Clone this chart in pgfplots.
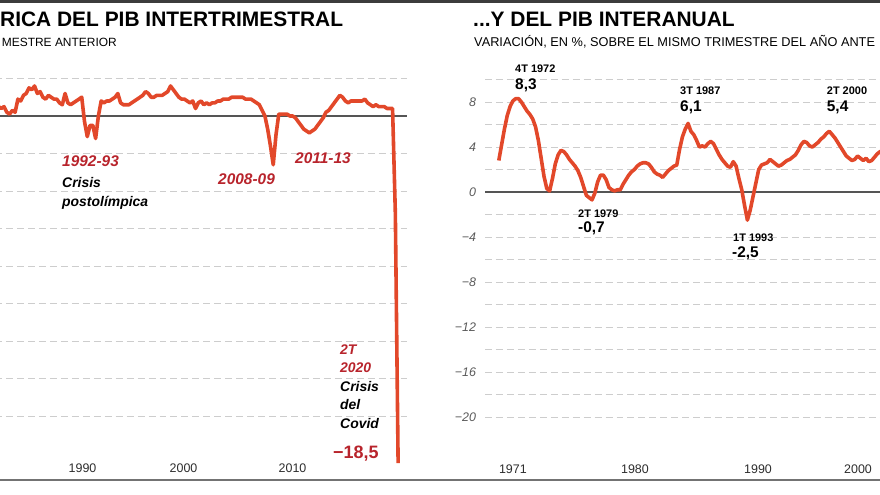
\documentclass[border=0pt]{standalone}
\usepackage{fontspec}
\setmainfont{Liberation Sans}
\usepackage{pgfplots}
\pgfplotsset{compat=1.18}

\definecolor{pibline}{RGB}{226,72,42}
\definecolor{pibred}{RGB}{184,36,44}
\definecolor{gridgray}{RGB}{205,205,205}
\definecolor{zerogray}{RGB}{85,85,85}
\definecolor{ticktext}{RGB}{45,45,45}
\definecolor{ylab}{RGB}{90,90,90}

\pgfplotsset{
  pibaxis/.style={
    scale only axis,
    axis line style={draw=none},
    major tick length=0pt, minor tick length=0pt,
    grid style={gridgray, line width=0.8pt, dash pattern=on 7pt off 4pt},
    ymajorgrids,
    clip=false,
    /pgf/number format/assume math mode=true,
    xticklabel style={anchor=base, font=\fontsize{12.5}{12.5}\selectfont, text=ticktext},
  },
}

\begin{document}
\begin{tikzpicture}
\useasboundingbox (0bp,0bp) rectangle (880bp,495bp);
\clip (0bp,0bp) rectangle (880bp,495bp);

% frame lines
\draw[line width=2.6bp, color={rgb,255:red,60;green,60;blue,60}] (0bp,493.7bp) -- (880bp,493.7bp);
\draw[line width=2bp, color={rgb,255:red,115;green,115;blue,115}] (0bp,14.5bp) -- (880bp,14.5bp);

% ---------- left: intertrimestral ----------
\begin{axis}[pibaxis,
  at={(-48.7bp,41.3bp)}, anchor=south west,
  width=455.7bp, height=384.6bp,
  xmin=1980, xmax=2021.05, ymin=-18, ymax=2.5,
  ytick={-16,-14,...,2}, yticklabels={},
  xtick={1991.82,2000.92,2010.74}, xticklabels={1990,2000,2010},
  xticklabel style={yshift=-19bp},
]
\addplot[zerogray, line width=1.2pt, forget plot] coordinates {(1980,0) (2021.05,0)};
\addplot[pibline, line width=3.6bp, line join=round] table {
1984.00 0.6
1984.25 0.5
1984.50 0.4
1984.75 0.5
1985.00 0.2
1985.25 0.1
1985.50 0.3
1985.75 0.2
1986.00 0.9
1986.25 0.8
1986.50 1.1
1986.75 1.2
1987.00 1.5
1987.25 1.4
1987.50 1.6
1987.75 1.2
1988.00 1.3
1988.25 1.0
1988.50 0.9
1988.75 1.1
1989.00 1.0
1989.25 0.9
1989.50 0.9
1989.75 0.7
1990.00 0.6
1990.25 1.2
1990.50 0.7
1990.75 0.6
1991.00 0.7
1991.25 0.8
1991.50 0.9
1991.75 1.0
1992.00 -0.3
1992.25 -1.1
1992.50 -0.5
1992.75 -0.5
1993.00 -1.2
1993.25 0.0
1993.50 0.8
1993.75 0.7
1994.00 0.8
1994.25 0.8
1994.50 0.9
1994.75 1.0
1995.00 1.2
1995.25 0.7
1995.50 0.6
1995.75 0.6
1996.00 0.6
1996.25 0.7
1996.50 0.8
1996.75 0.9
1997.00 1.0
1997.25 1.1
1997.50 1.3
1997.75 1.2
1998.00 1.0
1998.25 1.0
1998.50 1.1
1998.75 1.1
1999.00 1.1
1999.25 1.2
1999.50 1.3
1999.75 1.6
2000.00 1.4
2000.25 1.2
2000.50 1.0
2000.75 0.9
2001.00 0.9
2001.25 0.8
2001.50 0.7
2001.75 0.8
2002.00 0.4
2002.25 0.7
2002.50 0.8
2002.75 0.6
2003.00 0.7
2003.25 0.6
2003.50 0.7
2003.75 0.7
2004.00 0.8
2004.25 0.8
2004.50 0.9
2004.75 0.9
2005.00 0.9
2005.25 1.0
2005.50 1.0
2005.75 1.0
2006.00 1.0
2006.25 1.0
2006.50 0.9
2006.75 0.9
2007.00 0.9
2007.25 0.8
2007.50 0.7
2007.75 0.6
2008.00 0.3
2008.25 0.0
2008.50 -0.7
2008.75 -1.6
2009.00 -2.6
2009.25 -1.0
2009.50 0.1
2009.75 0.1
2010.00 0.1
2010.25 0.1
2010.50 0.0
2010.75 0.0
2011.00 -0.1
2011.25 -0.3
2011.50 -0.5
2011.75 -0.7
2012.00 -0.8
2012.25 -0.9
2012.50 -0.8
2012.75 -0.7
2013.00 -0.5
2013.25 -0.3
2013.50 -0.1
2013.75 0.2
2014.00 0.3
2014.25 0.5
2014.50 0.7
2014.75 0.9
2015.00 1.1
2015.25 1.0
2015.50 0.8
2015.75 0.7
2016.00 0.8
2016.25 0.8
2016.50 0.8
2016.75 0.8
2017.00 0.8
2017.25 0.9
2017.50 0.7
2017.75 0.6
2018.00 0.5
2018.25 0.6
2018.50 0.5
2018.75 0.5
2019.00 0.5
2019.25 0.4
2019.50 0.4
2019.75 0.4
2020.00 -5.2
2020.25 -18.5
};
\end{axis}

% ---------- right: interanual ----------
\begin{axis}[pibaxis,
  at={(485bp,55.5bp)}, anchor=south west,
  width=454.5bp, height=365.6bp,
  xmin=1969.78, xmax=2010, ymin=-22, ymax=10.5,
  ytick={-20,-16,...,8}, yticklabels={−20,−16,−12,−8,−4,0,4,8},
  minor ytick={-18,-14,...,10}, yminorgrids,
  minor grid style={gridgray, line width=0.8pt, dash pattern=on 7pt off 4pt},
  yticklabel style={font=\fontsize{12.5}{12.5}\selectfont\itshape, text=ylab, xshift=-5.5bp},
  xtick={1972.25,1983.05,1993.94,2002.79}, xticklabels={1971,1980,1990,2000},
  xticklabel style={yshift=-33.5bp},
]
\addplot[zerogray, line width=1.2pt, forget plot] coordinates {(1969.78,0) (2010,0)};
\addplot[pibline, line width=3.6bp, line join=round] table {
1971.00 2.8
1971.25 4.2
1971.50 5.6
1971.75 6.8
1972.00 7.6
1972.25 8.1
1972.50 8.3
1972.75 8.3
1973.00 8.0
1973.25 7.6
1973.50 7.2
1973.75 6.9
1974.00 6.5
1974.25 5.8
1974.50 4.6
1974.75 3.0
1975.00 1.4
1975.25 0.3
1975.50 0.1
1975.75 1.2
1976.00 2.5
1976.25 3.3
1976.50 3.7
1976.75 3.6
1977.00 3.3
1977.25 2.9
1977.50 2.6
1977.75 2.3
1978.00 1.9
1978.25 1.3
1978.50 0.5
1978.75 -0.3
1979.00 -0.5
1979.25 -0.7
1979.50 -0.1
1979.75 0.9
1980.00 1.5
1980.25 1.5
1980.50 1.1
1980.75 0.4
1981.00 0.2
1981.25 0.1
1981.50 0.2
1981.75 0.2
1982.00 0.7
1982.25 1.1
1982.50 1.5
1982.75 1.8
1983.00 2.0
1983.25 2.3
1983.50 2.5
1983.75 2.6
1984.00 2.6
1984.25 2.5
1984.50 2.2
1984.75 1.8
1985.00 1.6
1985.25 1.5
1985.50 1.3
1985.75 1.6
1986.00 1.9
1986.25 2.1
1986.50 2.3
1986.75 2.4
1987.00 3.8
1987.25 4.9
1987.50 5.6
1987.75 6.1
1988.00 5.4
1988.25 5.1
1988.50 4.6
1988.75 4.0
1989.00 4.1
1989.25 4.0
1989.50 4.3
1989.75 4.5
1990.00 4.3
1990.25 3.8
1990.50 3.3
1990.75 2.9
1991.00 2.6
1991.25 2.3
1991.50 2.2
1991.75 2.7
1992.00 2.3
1992.25 1.2
1992.50 0.2
1992.75 -1.2
1993.00 -2.5
1993.25 -1.6
1993.50 -0.4
1993.75 0.8
1994.00 2.0
1994.25 2.4
1994.50 2.5
1994.75 2.6
1995.00 2.9
1995.25 2.7
1995.50 2.5
1995.75 2.3
1996.00 2.4
1996.25 2.6
1996.50 2.8
1996.75 2.9
1997.00 3.1
1997.25 3.3
1997.50 3.7
1997.75 4.2
1998.00 4.5
1998.25 4.4
1998.50 4.1
1998.75 4.0
1999.00 4.2
1999.25 4.4
1999.50 4.7
1999.75 4.9
2000.00 5.2
2000.25 5.4
2000.50 5.1
2000.75 4.8
2001.00 4.4
2001.25 4.0
2001.50 3.6
2001.75 3.2
2002.00 3.0
2002.25 2.8
2002.50 2.9
2002.75 3.2
2003.00 3.0
2003.25 2.8
2003.50 3.0
2003.75 2.7
2004.00 2.8
2004.25 3.1
2004.50 3.4
2004.75 3.6
2005.00 3.6
2005.25 3.7
};
\end{axis}

% ---------- titles ----------
\node[anchor=base west, inner sep=0, font=\fontsize{21}{21}\selectfont\bfseries]
  at (0bp,468bp) {RICA DEL PIB INTERTRIMESTRAL};
\node[anchor=base east, inner sep=0, font=\fontsize{12}{12}\selectfont]
  at (117bp,448bp) {MESTRE ANTERIOR};
\node[anchor=base west, inner sep=0, font=\fontsize{21}{21}\selectfont\bfseries]
  at (473bp,468bp) {...Y DEL PIB INTERANUAL};
\node[anchor=base west, inner sep=0, font=\fontsize{12.8}{12.8}\selectfont]
  at (474bp,448bp) {VARIACIÓN, EN \%, SOBRE EL MISMO TRIMESTRE DEL AÑO ANTE};

\begin{scope}[every node/.style={anchor=base west, inner sep=0}]
% ---------- left annotations ----------
\node[font=\fontsize{15.5}{15.5}\selectfont\bfseries\itshape, text=pibred] at (62bp,328.5bp) {1992-93};
\node[font=\fontsize{14}{14}\selectfont\bfseries\itshape] at (62bp,307bp) {Crisis};
\node[font=\fontsize{14}{14}\selectfont\bfseries\itshape] at (62bp,288bp) {postolímpica};
\node[font=\fontsize{15.5}{15.5}\selectfont\bfseries\itshape, text=pibred] at (218bp,310bp) {2008-09};
\node[font=\fontsize{15.5}{15.5}\selectfont\bfseries\itshape, text=pibred] at (295bp,331bp) {2011-13};
\node[font=\fontsize{14}{14}\selectfont\bfseries\itshape, text=pibred] at (340bp,140bp) {2T};
\node[font=\fontsize{14}{14}\selectfont\bfseries\itshape, text=pibred] at (340bp,122.3bp) {2020};
\node[font=\fontsize{14}{14}\selectfont\bfseries\itshape] at (340bp,103.3bp) {Crisis};
\node[font=\fontsize{14}{14}\selectfont\bfseries\itshape] at (340bp,85bp) {del};
\node[font=\fontsize{14}{14}\selectfont\bfseries\itshape] at (340bp,66bp) {Covid};
\node[font=\fontsize{18}{18}\selectfont\bfseries, text=pibred] at (333bp,37bp) {−18,5};

% ---------- right annotations ----------
\node[font=\fontsize{11}{11}\selectfont\bfseries] at (515bp,422bp) {4T 1972};
\node[font=\fontsize{15.5}{15.5}\selectfont\bfseries] at (515bp,405bp) {8,3};
\node[font=\fontsize{11}{11}\selectfont\bfseries] at (680bp,400bp) {3T 1987};
\node[font=\fontsize{15.5}{15.5}\selectfont\bfseries] at (680bp,383bp) {6,1};
\node[font=\fontsize{11}{11}\selectfont\bfseries] at (826.7bp,400bp) {2T 2000};
\node[font=\fontsize{15.5}{15.5}\selectfont\bfseries] at (826.7bp,383bp) {5,4};
\node[font=\fontsize{11}{11}\selectfont\bfseries] at (578bp,277bp) {2T 1979};
\node[font=\fontsize{15.5}{15.5}\selectfont\bfseries] at (578bp,262bp) {-0,7};
\node[font=\fontsize{11}{11}\selectfont\bfseries] at (733bp,253bp) {1T 1993};
\node[font=\fontsize{15.5}{15.5}\selectfont\bfseries] at (732bp,237bp) {-2,5};
\end{scope}
\end{tikzpicture}
\end{document}
